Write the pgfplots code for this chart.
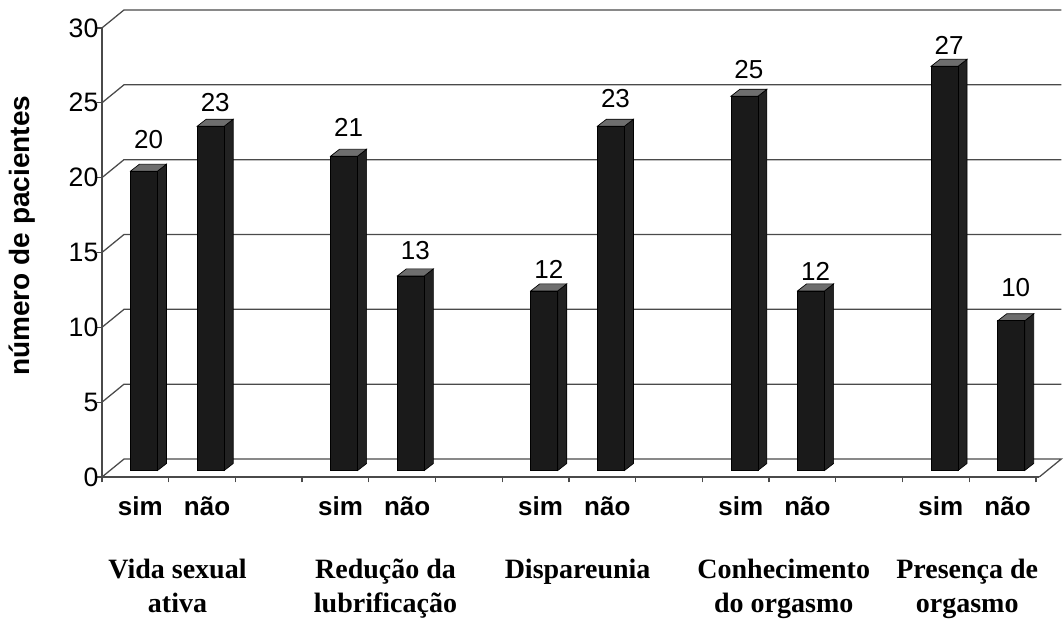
\documentclass[border=0pt]{standalone}
\usepackage{fontspec}
\setmainfont{Liberation Sans}
\newfontfamily\tnr{Liberation Serif}
\usepackage{pgfplots}
\usepackage{pgfplotstable}
\pgfplotsset{compat=1.18}
\definecolor{barfront}{HTML}{1A1A1A}
\definecolor{barside}{HTML}{222222}
\definecolor{bartop}{HTML}{6E6E6E}
\definecolor{gridc}{HTML}{4A4A4A}
\pgfdeclareplotmark{nothing}{}

\pgfplotstableread{
x v gap
0.13 20 23
1.13 23 14.5
3.13 21 19.5
4.13 13 16
6.13 12 12
7.13 23 19
9.13 25 17.5
10.13 12 10
12.13 27 12
13.13 10 24
}\bars

\begin{document}
\begin{tikzpicture}
\begin{axis}[
  x=50.03pt, y=11.2275pt,
  xmin=-0.5, xmax=13.55, ymin=0, ymax=30,
  axis x line=bottom, axis y line=left,
  axis line style={-, draw=gridc, line width=0.95pt},
  clip=false,
  tick align=outside,
  major tick length=4pt,
  tick style={draw=gridc, line width=0.95pt},
  ytick={0,5,...,30},
  yticklabel style={font=\fontsize{20}{20}\selectfont, anchor=east, inner sep=0pt, xshift=1.5pt},
  /pgf/number format/assume math mode=true,
  xtick={-0.5,0.5,...,13.5},
  xticklabels={},
  extra x ticks={0,1,3,4,6,7,9,10,12,13},
  extra x tick labels={sim,não,sim,não,sim,não,sim,não,sim,não},
  extra x tick style={major tick length=0pt,
    xticklabel style={font=\bfseries\fontsize{19.5}{19.5}\selectfont, anchor=base, inner sep=0pt, yshift=-28.5pt, xshift=3.75pt}},
  ylabel={número de pacientes},
  every axis y label/.style={at={(axis description cs:0,0.537)}, xshift=-60pt, rotate=90, anchor=center,
    font=\bfseries\fontsize{21}{21}\selectfont},
]
% back wall gridlines and floor
\addplot[gridc, line width=0.95pt] coordinates {(-0.5,0) (-0.17,1.2) (13.88,1.2) (13.55,0)};
\addplot[gridc, line width=0.95pt] coordinates {(-0.5,5) (-0.17,6.2) (13.88,6.2)};
\addplot[gridc, line width=0.95pt] coordinates {(-0.5,10) (-0.17,11.2) (13.88,11.2)};
\addplot[gridc, line width=0.95pt] coordinates {(-0.5,15) (-0.17,16.2) (13.88,16.2)};
\addplot[gridc, line width=0.95pt] coordinates {(-0.5,20) (-0.17,21.2) (13.88,21.2)};
\addplot[gridc, line width=0.95pt] coordinates {(-0.5,25) (-0.17,26.2) (13.88,26.2)};
\addplot[gridc, line width=0.95pt] coordinates {(-0.5,30) (-0.17,31.2) (13.88,31.2)};
% 3D bars
\addplot[scatter, only marks, mark=nothing,
  point meta=explicit symbolic,
  visualization depends on={rawy\as\val},
  scatter/@pre marker code/.code={%
    \pgfmathsetmacro\bot{4.875-\val*11.2275}%
    \pgfmathsetmacro\lab{4.875+\pgfplotspointmeta*0.75}%
    \pgfmathtruncatemacro\vv{round(\val)}%
    \filldraw[fill=barside, draw=black, line width=0.5pt]
      (10.125pt,4.875pt) -- (16.875pt,10.125pt) -- (16.875pt,\bot pt+5.25pt) -- (10.125pt,\bot pt) -- cycle;
    \filldraw[fill=bartop, draw=black, line width=0.5pt]
      (-10.125pt,4.875pt) -- (10.125pt,4.875pt) -- (16.875pt,10.125pt) -- (-3.375pt,10.125pt) -- cycle;
    \filldraw[fill=barfront, draw=black, line width=0.5pt]
      (-10.125pt,\bot pt) rectangle (10.125pt,4.875pt);
    \node[anchor=base, inner sep=0pt, font=\fontsize{19.5}{19.5}\selectfont] at (3.375pt,\lab pt) {\vv};
  },
  scatter/@post marker code/.code={},
] table[x=x, y=v, meta=gap] {\bars};
% category labels
\node[anchor=base, font=\tnr\bfseries\fontsize{21}{21}\selectfont, yshift=-75.75pt] at (axis cs:0.632,0) {Vida sexual};
\node[anchor=base, font=\tnr\bfseries\fontsize{21}{21}\selectfont, yshift=-101.25pt] at (axis cs:0.632,0) {ativa};
\node[anchor=base, font=\tnr\bfseries\fontsize{21}{21}\selectfont, yshift=-75.75pt] at (axis cs:3.75,0) {Redução da};
\node[anchor=base, font=\tnr\bfseries\fontsize{21}{21}\selectfont, yshift=-101.25pt] at (axis cs:3.75,0) {lubrificação};
\node[anchor=base, font=\tnr\bfseries\fontsize{21}{21}\selectfont, yshift=-75.75pt] at (axis cs:6.63,0) {Dispareunia};
\node[anchor=base, font=\tnr\bfseries\fontsize{21}{21}\selectfont, yshift=-75.75pt] at (axis cs:9.72,0) {Conhecimento};
\node[anchor=base, font=\tnr\bfseries\fontsize{21}{21}\selectfont, yshift=-101.25pt] at (axis cs:9.72,0) {do orgasmo};
\node[anchor=base, font=\tnr\bfseries\fontsize{21}{21}\selectfont, yshift=-75.75pt] at (axis cs:12.47,0) {Presença de};
\node[anchor=base, font=\tnr\bfseries\fontsize{21}{21}\selectfont, yshift=-101.25pt] at (axis cs:12.47,0) {orgasmo};
\end{axis}
\pgfresetboundingbox
\path[use as bounding box] (-76.5pt,-106.5pt) rectangle (721.5pt,357.75pt);
\end{tikzpicture}
\end{document}
